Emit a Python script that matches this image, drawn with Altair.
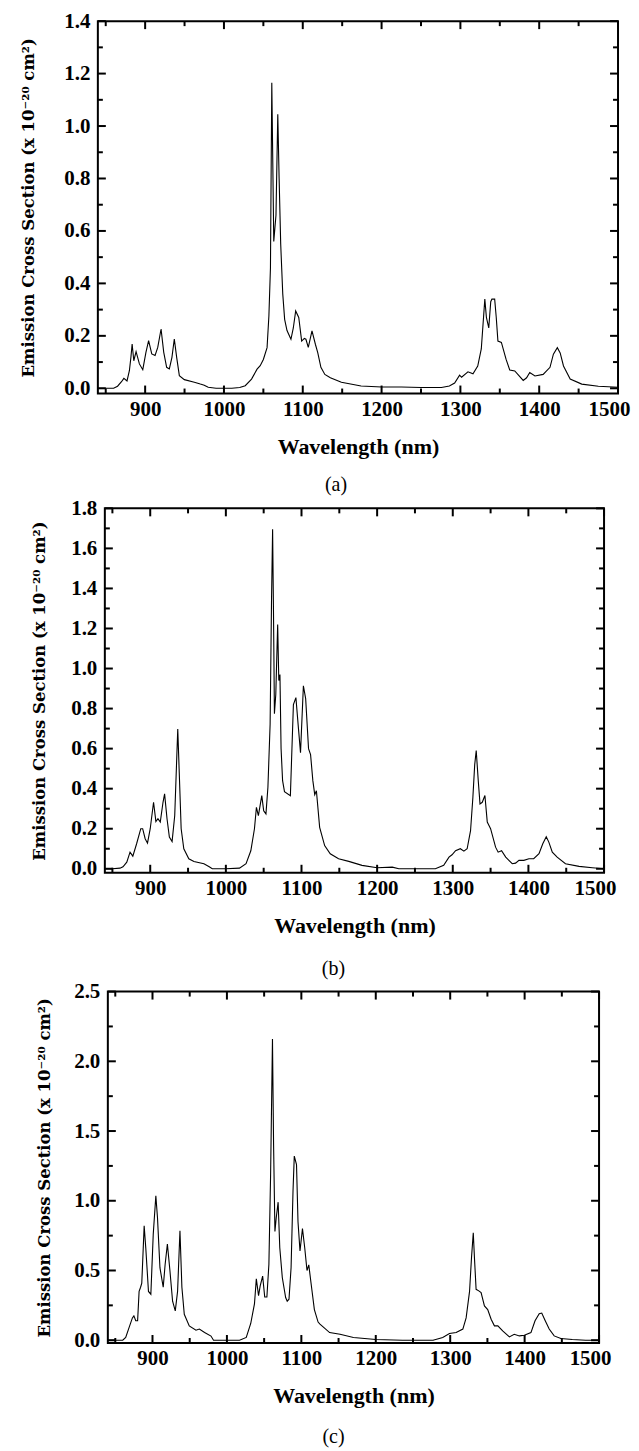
import altair as alt
import pandas as pd

FONT = "Liberation Serif, Times New Roman, Times, DejaVu Serif, serif"
TFONT = "DejaVu Serif"

# ---------------- data ----------------
wl_a = [840, 850, 860, 865, 870, 873, 877, 880, 882, 883.5, 885.6, 888.5, 892.7, 897, 901, 904.4,
        908.4, 912.6, 916, 920.2, 923.6, 927.3, 930.7, 934, 937, 940, 943.4, 949.7, 962.4, 970,
        975, 980, 990, 1000, 1010, 1020, 1027, 1035, 1042, 1046, 1050, 1054.7, 1057, 1059, 1060.7,
        1063.2, 1066, 1068.3, 1070, 1072, 1074.6, 1077, 1080, 1085, 1088, 1091, 1094.9, 1098.6,
        1102, 1104, 1107, 1111.7, 1116, 1119, 1123, 1128, 1135, 1149, 1174, 1200, 1225, 1250,
        1276, 1286, 1292.7, 1299, 1301.5, 1309.6, 1316, 1322, 1326.5, 1331, 1333, 1336, 1338.5,
        1340, 1343.5, 1345.5, 1347.6, 1352, 1358, 1362.6, 1369, 1379.7, 1384, 1388, 1394.6, 1405,
        1413.7, 1418, 1423, 1426.6, 1430.8, 1439.3, 1454, 1475, 1500]
cs_a = [0.0, 0.0, 0.0, 0.008, 0.025, 0.038, 0.028, 0.067, 0.12, 0.169, 0.105, 0.14, 0.093, 0.071,
        0.137, 0.182, 0.131, 0.125, 0.156, 0.226, 0.137, 0.08, 0.074, 0.118, 0.188, 0.118, 0.048,
        0.033, 0.023, 0.016, 0.012, 0.004, 0.0, 0.0, 0.0, 0.003, 0.01, 0.035, 0.073, 0.086, 0.11,
        0.155, 0.275, 0.46, 1.165, 0.56, 0.66, 1.045, 0.8, 0.55, 0.36, 0.263, 0.22, 0.187, 0.23,
        0.295, 0.27, 0.18, 0.19, 0.187, 0.156, 0.219, 0.168, 0.136, 0.08, 0.053, 0.04, 0.023,
        0.009, 0.005, 0.005, 0.003, 0.003, 0.009, 0.02, 0.05, 0.042, 0.063, 0.055, 0.085, 0.15,
        0.34, 0.27, 0.23, 0.33, 0.34, 0.34, 0.27, 0.18, 0.175, 0.11, 0.07, 0.066, 0.03, 0.04, 0.06,
        0.047, 0.053, 0.08, 0.13, 0.155, 0.135, 0.085, 0.035, 0.016, 0.008, 0.004]

wl_b = [840, 850, 860, 864, 869, 873.3, 877, 882, 887.5, 890, 893.3, 896.4, 900, 904.4, 907.5,
        910.2, 913.3, 916.9, 919, 922.2, 925.3, 928.9, 932.4, 934.7, 936.4, 938.2, 940.9, 944.4,
        951, 957.8, 971, 978, 982, 1000, 1018, 1026.7, 1033, 1037.8, 1040.4, 1043, 1047.5, 1050,
        1053, 1055.6, 1058.5, 1060.4, 1061.8, 1063, 1064.2, 1066, 1068.5, 1070, 1071.5, 1073, 1075,
        1077.5, 1085.3, 1089.3, 1092.6, 1096, 1098.7, 1102.5, 1105.5, 1109.3, 1112, 1115, 1117.5,
        1119.7, 1124, 1130.6, 1138, 1149, 1162.5, 1180, 1200, 1220, 1228.7, 1277, 1288, 1295, 1299,
        1303.7, 1310, 1314.7, 1319, 1323.5, 1326.6, 1329, 1331, 1333.7, 1336, 1339, 1342.5, 1345.6,
        1350, 1356.6, 1360, 1364.5, 1370, 1378.6, 1383, 1387.5, 1394, 1400.7, 1407, 1414, 1419,
        1423.6, 1427, 1431.6, 1438, 1449, 1467, 1484.5, 1500]
cs_b = [0.0, 0.0, 0.003, 0.01, 0.033, 0.083, 0.063, 0.125, 0.2, 0.2, 0.15, 0.128, 0.2, 0.332,
        0.236, 0.25, 0.233, 0.332, 0.374, 0.25, 0.158, 0.136, 0.266, 0.515, 0.698, 0.5, 0.2, 0.1,
        0.05, 0.036, 0.025, 0.01, 0.0, 0.0, 0.003, 0.025, 0.09, 0.2, 0.307, 0.265, 0.365, 0.29,
        0.274, 0.407, 0.72, 1.35, 1.695, 1.27, 0.774, 0.87, 1.22, 0.94, 0.97, 0.6, 0.44, 0.385,
        0.365, 0.82, 0.855, 0.7, 0.58, 0.914, 0.85, 0.6, 0.57, 0.44, 0.37, 0.39, 0.207, 0.116,
        0.075, 0.05, 0.037, 0.017, 0.005, 0.008, 0.0, 0.0, 0.017, 0.058, 0.07, 0.09, 0.1, 0.088,
        0.1, 0.19, 0.357, 0.52, 0.59, 0.44, 0.324, 0.332, 0.366, 0.233, 0.2, 0.108, 0.083, 0.09,
        0.058, 0.025, 0.028, 0.042, 0.042, 0.05, 0.05, 0.075, 0.125, 0.16, 0.133, 0.083, 0.058,
        0.025, 0.012, 0.005, 0.0]

wl_c = [840, 850, 860, 864, 868.5, 873, 875, 877.5, 880, 882, 884, 885.6, 888.8, 891, 894.6, 897.8,
        901, 904.5, 906.7, 910, 914.4, 917, 920, 923.4, 927, 930.6, 933.7, 936.9, 939.5, 942.7,
        949.4, 958.4, 963, 970, 978.6, 982, 1017, 1026, 1032, 1037, 1039.5, 1042.5, 1044.7, 1048,
        1050.8, 1053.7, 1056.4, 1058.7, 1061.2, 1062.7, 1064.5, 1066.3, 1068.8, 1071, 1074.4,
        1078.9, 1081, 1083.4, 1086.2, 1088.8, 1090.5, 1093.5, 1095.5, 1098.2, 1101.5, 1104.5,
        1107.6, 1110, 1113, 1117.5, 1122.5, 1125, 1138, 1152, 1170, 1200, 1236, 1277, 1290, 1299,
        1308, 1317, 1321.4, 1326, 1328.6, 1331, 1332.6, 1334.8, 1338.4, 1341.5, 1346, 1350.4, 1355,
        1359.4, 1364, 1370.5, 1379.5, 1386, 1393, 1399.6, 1408.5, 1414, 1419.6, 1423, 1427.7, 1433,
        1439.7, 1448.7, 1464, 1482, 1500]
cs_c = [0.0, 0.0, 0.0, 0.02, 0.09, 0.16, 0.175, 0.14, 0.14, 0.35, 0.38, 0.41, 0.82, 0.66, 0.35,
        0.33, 0.76, 1.035, 0.88, 0.52, 0.38, 0.545, 0.69, 0.5, 0.28, 0.21, 0.35, 0.785, 0.38, 0.186,
        0.103, 0.072, 0.08, 0.055, 0.03, 0.0, 0.0, 0.02, 0.12, 0.26, 0.44, 0.32, 0.39, 0.46, 0.31,
        0.31, 0.545, 1.19, 2.16, 1.4, 0.78, 0.88, 0.99, 0.665, 0.45, 0.306, 0.28, 0.294, 0.52, 1.07,
        1.32, 1.26, 0.85, 0.64, 0.8, 0.665, 0.5, 0.54, 0.41, 0.22, 0.13, 0.115, 0.055, 0.043, 0.02,
        0.005, 0.0, 0.0, 0.02, 0.048, 0.055, 0.08, 0.16, 0.35, 0.59, 0.77, 0.59, 0.365, 0.354,
        0.342, 0.246, 0.22, 0.15, 0.103, 0.103, 0.067, 0.024, 0.043, 0.031, 0.036, 0.055, 0.14,
        0.19, 0.195, 0.14, 0.08, 0.031, 0.012, 0.005, 0.0, 0.0]

x_domain = [840, 1500]
x_major = [900, 1000, 1100, 1200, 1300, 1400, 1500]
x_minor = [850, 950, 1050, 1150, 1250, 1350, 1450]

y_major_a = [0.0, 0.2, 0.4, 0.6, 0.8, 1.0, 1.2, 1.4]
y_minor_a = [0.1, 0.3, 0.5, 0.7, 0.9, 1.1, 1.3]
y_major_b = [0.0, 0.2, 0.4, 0.6, 0.8, 1.0, 1.2, 1.4, 1.6, 1.8]
y_minor_b = [0.1, 0.3, 0.5, 0.7, 0.9, 1.1, 1.3, 1.5, 1.7]
y_major_c = [0.0, 0.5, 1.0, 1.5, 2.0, 2.5]
y_minor_c = [0.25, 0.75, 1.25, 1.75, 2.25]

Y_TITLE = "Emission Cross Section (x 10\u207b\u00b2\u2070 cm\u00b2)"
X_TITLE = "Wavelength (nm)"

MAJ = 8   # inner tick length, px
MIN = 5


def tick_layer(vals, side, length, xs, ys, W, H):
    df = pd.DataFrame({"v": vals})
    m = alt.Chart(df).mark_rule(color="black", strokeWidth=2)
    if side == "bottom":
        return m.encode(x=alt.X("v:Q", scale=xs, axis=None),
                        y=alt.value(H), y2=alt.value(H - length))
    if side == "top":
        return m.encode(x=alt.X("v:Q", scale=xs, axis=None),
                        y=alt.value(0), y2=alt.value(length))
    if side == "left":
        return m.encode(y=alt.Y("v:Q", scale=ys, axis=None),
                        x=alt.value(0), x2=alt.value(length))
    return m.encode(y=alt.Y("v:Q", scale=ys, axis=None),
                    x=alt.value(W), x2=alt.value(W - length))


def panel(wl, cs, W, H, ydom, y_major, y_minor, tpad, caption, cap_dx, cap_offset):
    df = pd.DataFrame({"wl": wl, "cs": cs})
    xs = alt.Scale(domain=x_domain, nice=False, zero=False)
    ys = alt.Scale(domain=ydom, nice=False, zero=False)

    main = alt.Chart(df).mark_line(color="black", strokeWidth=1.1).encode(
        x=alt.X("wl:Q", scale=xs, axis=alt.Axis(
            orient="bottom", values=x_major, format="d", ticks=False, tickSize=0,
            domain=False, grid=False, labelFlush=True, labelFlushOffset=12,
            labelOverlap=False,
            labelFont=FONT, labelFontSize=21, labelFontWeight="bold", labelColor="black",
            labelPadding=5, title=X_TITLE, titleFont=FONT, titleFontSize=22,
            titleFontWeight="bold", titleColor="black", titlePadding=17)),
        y=alt.Y("cs:Q", scale=ys, axis=alt.Axis(
            orient="left", values=y_major, format=".1f", ticks=False, tickSize=0,
            domain=False, grid=False, labelOverlap=False,
            labelFont=FONT, labelFontSize=21, labelFontWeight="bold", labelColor="black",
            labelPadding=8, title=Y_TITLE, titleFont=TFONT, titleFontSize=16.5,
            titleFontWeight="bold", titleColor="black", titlePadding=tpad)),
    )

    layers = [main]
    for side in ("bottom", "top"):
        layers.append(tick_layer(x_major, side, MAJ, xs, ys, W, H))
        layers.append(tick_layer(x_minor, side, MIN, xs, ys, W, H))
    for side in ("left", "right"):
        layers.append(tick_layer(y_major, side, MAJ, xs, ys, W, H))
        layers.append(tick_layer(y_minor, side, MIN, xs, ys, W, H))

    tp = dict(text=caption, orient="bottom", anchor="middle", frame="group", dx=cap_dx,
              offset=cap_offset, font=FONT, fontSize=20, fontWeight="normal", color="black")
    return alt.layer(*layers).resolve_axis(x="independent", y="independent").properties(
        width=W, height=H, title=alt.TitleParams(**tp))


def blank(w):
    return alt.Chart(pd.DataFrame({"z": [0]})).mark_point(opacity=0, size=1).encode(
        x=alt.value(0), y=alt.value(0)
    ).properties(width=w, height=10, view=alt.ViewBackground(stroke="transparent"))


pa = panel(wl_a, cs_a, 521, 373, [-0.02, 1.4], y_major_a, y_minor_a, 27, "(a)", -22, 18)
pb = panel(wl_b, cs_b, 500, 365, [-0.02, 1.8], y_major_b, y_minor_b, 23, "(b)", -21, 22)
pc = panel(wl_c, cs_c, 492, 352, [-0.02, 2.5], y_major_c, y_minor_c, 21, "(c)", -20, 20)

row_a = alt.hconcat(blank(8), pa, spacing=0)
row_b = alt.hconcat(blank(19), pb, spacing=0)
row_c = alt.hconcat(blank(24), pc, spacing=0)

chart = alt.vconcat(row_a, row_b, row_c, spacing=0).properties(
    padding={"left": 0, "top": 0, "right": 0, "bottom": 0}
).configure_view(stroke="black", strokeWidth=2).configure_axis(grid=False)

chart.save("out.html", embed_options={"renderer": "svg", "actions": False})
